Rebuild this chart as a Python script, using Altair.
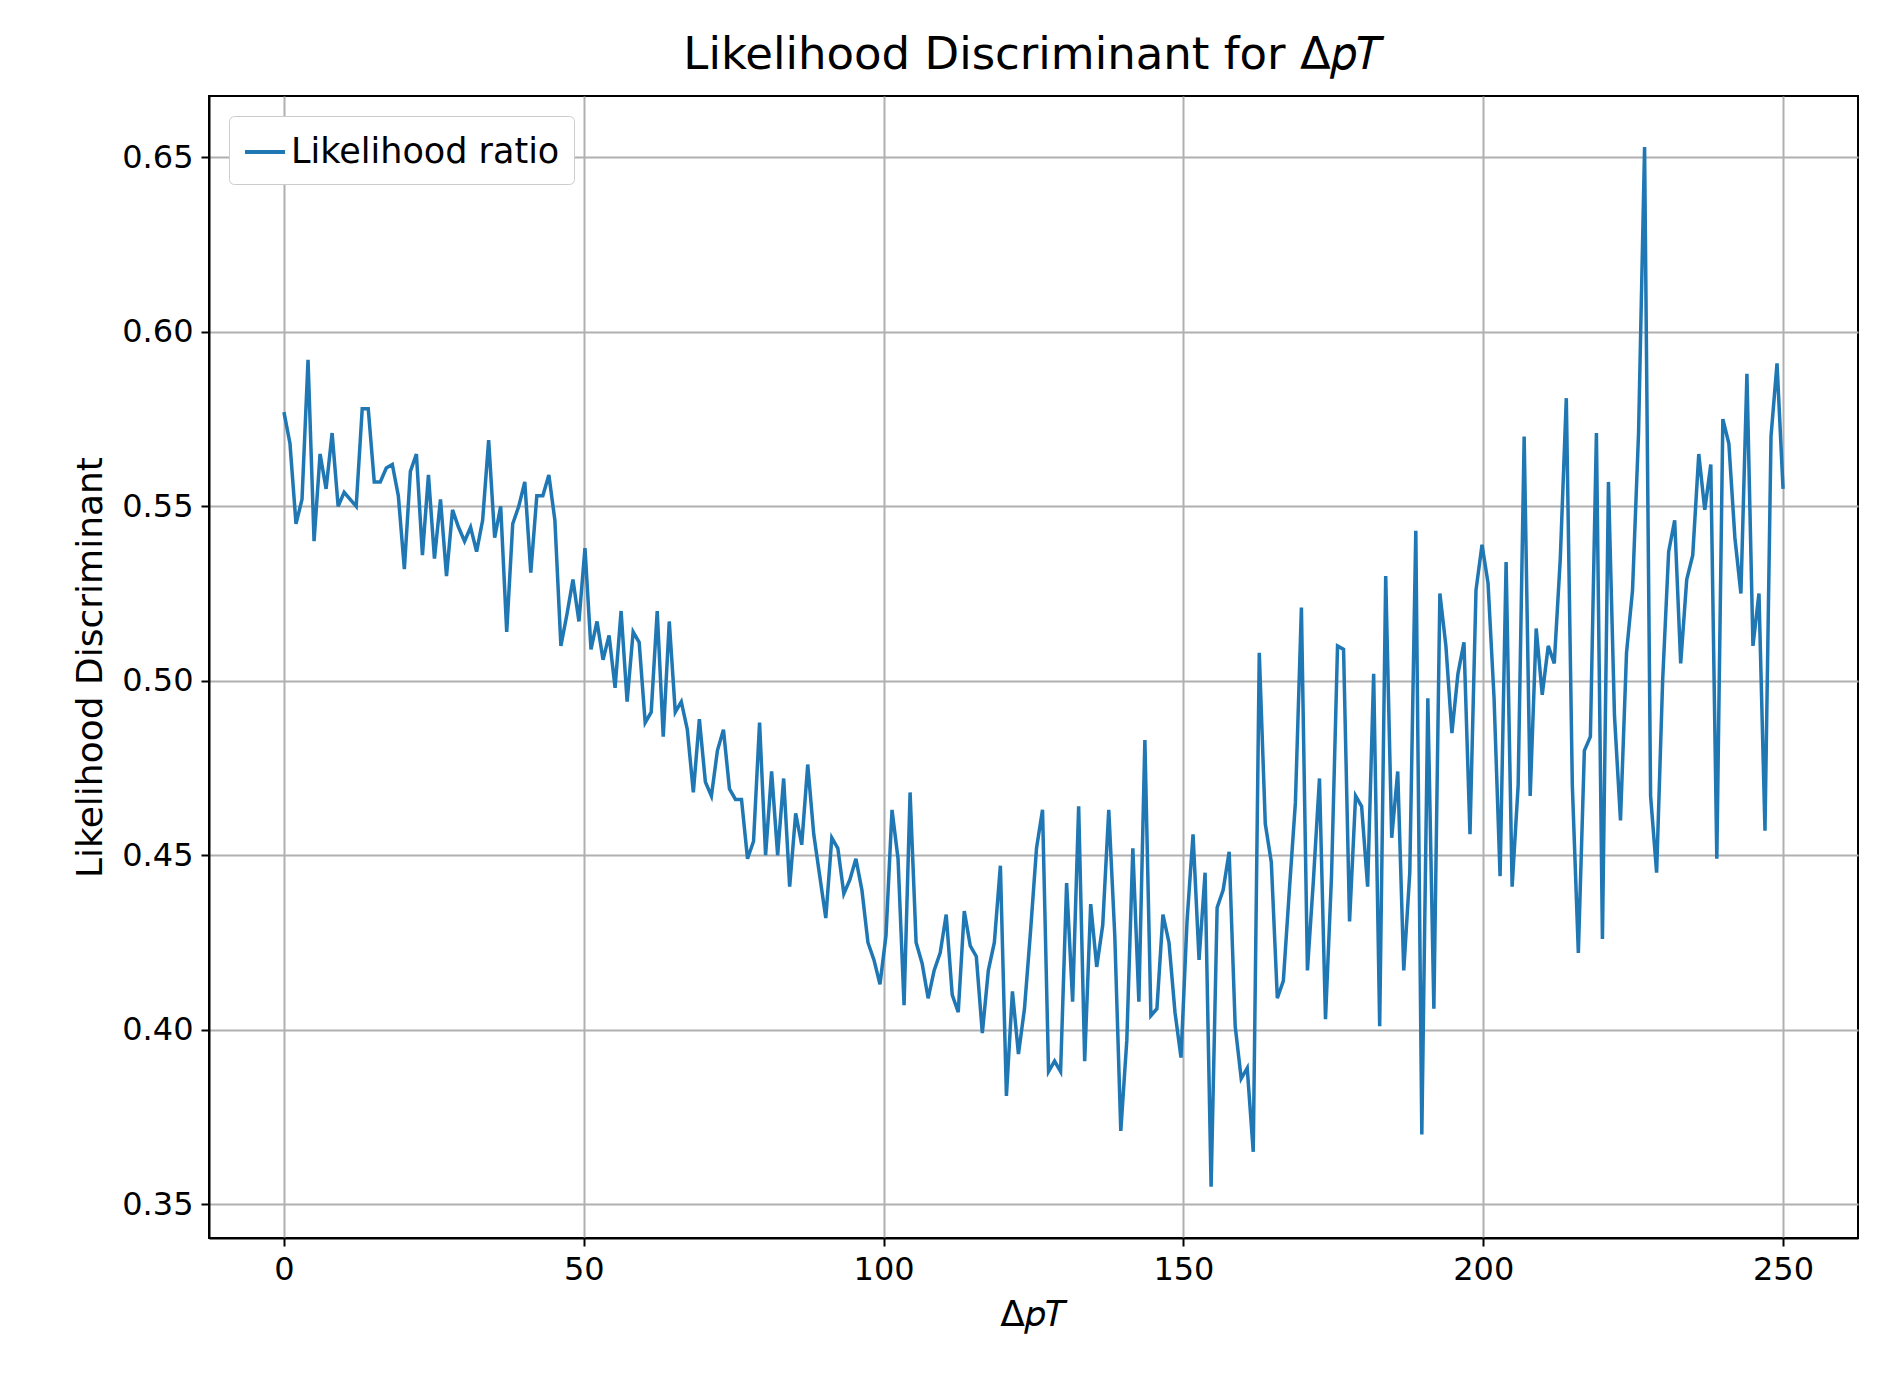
import pandas as pd
import altair as alt

# likelihood ratio per Delta pT bin, 250 bins spread evenly over 0..250
ratio = [
    0.577, 0.568, 0.545, 0.552, 0.592, 0.540, 0.565, 0.555, 0.571, 0.550,
    0.554, 0.552, 0.550, 0.578, 0.578, 0.557, 0.557, 0.561, 0.562, 0.553,
    0.532, 0.560, 0.565, 0.536, 0.559, 0.535, 0.552, 0.530, 0.549, 0.544,
    0.540, 0.544, 0.537, 0.546, 0.569, 0.541, 0.550, 0.514, 0.545, 0.550,
    0.557, 0.531, 0.553, 0.553, 0.559, 0.546, 0.510, 0.519, 0.529, 0.517,
    0.538, 0.509, 0.517, 0.506, 0.513, 0.498, 0.520, 0.494, 0.514, 0.511,
    0.488, 0.491, 0.520, 0.484, 0.517, 0.491, 0.494, 0.486, 0.468, 0.489,
    0.471, 0.467, 0.480, 0.486, 0.469, 0.466, 0.466, 0.449, 0.454, 0.488,
    0.450, 0.474, 0.450, 0.472, 0.441, 0.462, 0.453, 0.476, 0.456, 0.444,
    0.432, 0.455, 0.452, 0.439, 0.443, 0.449, 0.440, 0.425, 0.420, 0.413,
    0.427, 0.463, 0.449, 0.407, 0.468, 0.425, 0.419, 0.409, 0.417, 0.422,
    0.433, 0.410, 0.405, 0.434, 0.424, 0.421, 0.399, 0.417, 0.425, 0.447,
    0.381, 0.411, 0.393, 0.406, 0.428, 0.452, 0.463, 0.388, 0.391, 0.388,
    0.442, 0.408, 0.464, 0.391, 0.436, 0.418, 0.430, 0.463, 0.427, 0.371,
    0.397, 0.452, 0.408, 0.483, 0.404, 0.406, 0.433, 0.425, 0.405, 0.392,
    0.431, 0.456, 0.420, 0.445, 0.355, 0.435, 0.440, 0.451, 0.401, 0.386,
    0.389, 0.365, 0.508, 0.459, 0.448, 0.409, 0.414, 0.440, 0.465, 0.521,
    0.417, 0.443, 0.472, 0.403, 0.444, 0.510, 0.509, 0.431, 0.467, 0.464,
    0.441, 0.502, 0.401, 0.530, 0.455, 0.474, 0.417, 0.445, 0.543, 0.370,
    0.495, 0.406, 0.525, 0.510, 0.485, 0.502, 0.511, 0.456, 0.526, 0.539,
    0.528, 0.495, 0.444, 0.534, 0.441, 0.470, 0.570, 0.467, 0.515, 0.496,
    0.510, 0.505, 0.535, 0.581, 0.470, 0.422, 0.480, 0.484, 0.571, 0.426,
    0.557, 0.490, 0.460, 0.508, 0.526, 0.571, 0.653, 0.467, 0.445, 0.500,
    0.537, 0.546, 0.505, 0.529, 0.536, 0.565, 0.549, 0.562, 0.449, 0.575,
    0.568, 0.541, 0.525, 0.588, 0.510, 0.525, 0.457, 0.570, 0.591, 0.555,
]
dpt = [i * 250 / (len(ratio) - 1) for i in range(len(ratio))]

df = pd.DataFrame({"dpt": dpt, "ratio": ratio, "series": "Likelihood ratio"})

font = "DejaVu Sans"

chart = alt.Chart(df).mark_line(strokeWidth=3.5, clip=True).encode(
    x=alt.X("dpt:Q", title="Δ𝑝𝑇",
            scale=alt.Scale(domain=[-12.5, 262.5], nice=False, zero=False),
            axis=alt.Axis(values=[0, 50, 100, 150, 200, 250], grid=True)),
    y=alt.Y("ratio:Q", title="Likelihood Discriminant",
            scale=alt.Scale(domain=[0.3403, 0.6676], nice=False, zero=False),
            axis=alt.Axis(values=[0.35, 0.40, 0.45, 0.50, 0.55, 0.60, 0.65],
                          format=".2f", grid=True)),
    color=alt.Color("series:N", scale=alt.Scale(range=["#1f77b4"]),
                    legend=alt.Legend(title=None, orient="none",
                                      legendX=20, legendY=20,
                                      symbolType="stroke", symbolSize=1600,
                                      symbolStrokeWidth=4,
                                      labelFontSize=35, labelFont=font,
                                      labelLimit=600,
                                      strokeColor="#cccccc", cornerRadius=5,
                                      padding=14, fillColor="white")),
).properties(
    width=1649,
    height=1142,
    title=alt.TitleParams("Likelihood Discriminant for Δ𝑝𝑇", fontSize=45,
                          font=font, fontWeight="normal", offset=18),
    autosize=alt.AutoSizeParams(type="none"),
    padding={"left": 201, "top": 88, "right": 20, "bottom": 140},
).configure_axis(
    labelFontSize=32, titleFontSize=36, labelFont=font, titleFont=font,
    titleFontWeight="normal", labelColor="black", titleColor="black",
    gridColor="#b0b0b0", gridWidth=2, domainColor="black", domainWidth=2,
    tickColor="black", tickWidth=2, tickSize=8, labelPadding=8, titlePadding=12,
).configure_view(stroke="black", strokeWidth=2)

chart.save("out.html", embed_options={"renderer": "svg", "actions": False})
